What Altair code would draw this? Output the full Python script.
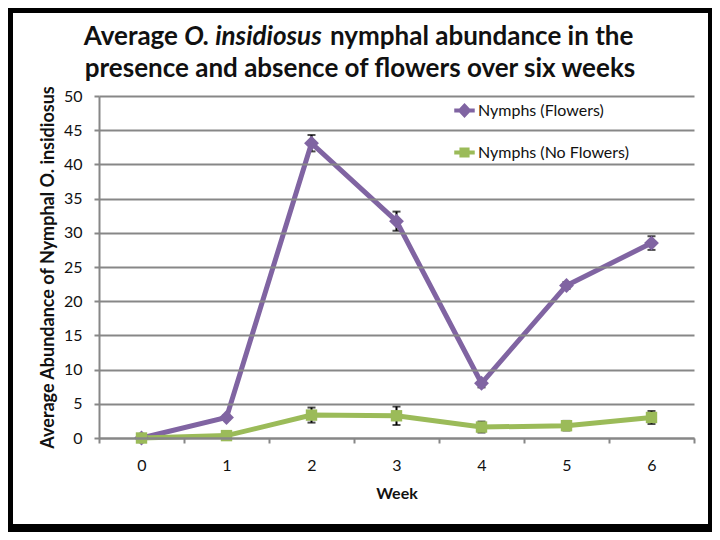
import altair as alt
import pandas as pd

weeks = [0, 1, 2, 3, 4, 5, 6]
flowers = [0.0, 3.0, 43.1, 31.7, 8.0, 22.3, 28.5]
flowers_err = [0.0, 0.3, 1.2, 1.4, 0.6, 0.5, 1.0]
no_flowers = [0.0, 0.35, 3.35, 3.25, 1.6, 1.8, 3.0]
no_flowers_err = [0.0, 0.3, 1.1, 1.35, 0.8, 0.7, 0.95]
series_names = ["Nymphs (Flowers)", "Nymphs (No Flowers)"]
colors = ["#8064A2", "#9BBB59"]
y_ticks = [0, 5, 10, 15, 20, 25, 30, 35, 40, 45, 50]
x_ticks = [-0.5, 0, 0.5, 1, 1.5, 2, 2.5, 3, 3.5, 4, 4.5, 5, 5.5, 6, 6.5]

rows = []
for name, vals, errs in [(series_names[0], flowers, flowers_err),
                         (series_names[1], no_flowers, no_flowers_err)]:
    for w, v, e in zip(weeks, vals, errs):
        rows.append({"week": w, "value": v, "lo": v - e, "hi": v + e, "series": name})
df = pd.DataFrame(rows)

FONT = "Lato"
W, H = 595, 342
YTITLE = "Average Abundance of Nymphal O. insidiosus"

xscale = alt.Scale(domain=[-0.5, 6.5], nice=False, zero=False)
yscale = alt.Scale(domain=[0, 50], nice=False)
color_scale = alt.Scale(domain=series_names, range=colors)

xaxis = alt.Axis(values=x_ticks,
                 labelExpr="datum.value % 1 == 0 ? format(datum.value, 'd') : ''",
                 tickOpacity=alt.expr("datum.value % 1 == 0 ? 0 : 1"),
                 grid=False, domainColor="#878787", domainWidth=2,
                 tickColor="#878787", tickWidth=2, tickSize=5,
                 labelFont=FONT, labelFontSize=16, labelColor="#111",
                 labelPadding=14, title="Week", titleFont=FONT,
                 titleFontSize=16, titleFontWeight="bold", titleColor="#111",
                 titlePadding=12, zindex=1)
yaxis = alt.Axis(values=y_ticks, grid=True, gridColor="#878787", gridWidth=2,
                 domainColor="#878787", domainWidth=2, tickColor="#878787",
                 tickWidth=2, tickSize=5, labelFont=FONT, labelFontSize=16,
                 labelColor="#111", labelPadding=12,
                 title=YTITLE,
                 titleFont=FONT, titleFontSize=18, titleFontWeight="bold",
                 titleColor="#111", titlePadding=6, zindex=1)

diamond_path = "M-1,0L1,0M0,-0.45L0.42,0L0,0.45L-0.42,0Z"
square_path = "M-1,0L1,0M-0.3,-0.3L0.3,-0.3L0.3,0.3L-0.3,0.3Z"
shape_expr = ("datum.value == '" + series_names[0] + "' ? '" + diamond_path +
              "' : '" + square_path + "'")

base = alt.Chart(df)

# white card over black background
card = alt.Chart(pd.DataFrame({"k": [0]})).mark_rect(color="white").encode(
    x=alt.value(-86), x2=alt.value(609), y=alt.value(-83), y2=alt.value(428)
)

err = base.mark_errorbar(ticks=alt.TickConfig(size=8, thickness=2, color="black"),
                         color="black", thickness=2).encode(
    x=alt.X("week:Q", scale=xscale, axis=xaxis, title="Week"),
    y=alt.Y("lo:Q", scale=yscale, axis=yaxis, title=YTITLE),
    y2="hi:Q",
    detail="series:N",
)

lines = base.mark_line(strokeWidth=5).encode(
    x=alt.X("week:Q", scale=xscale, axis=xaxis, title="Week"),
    y=alt.Y("value:Q", scale=yscale, axis=yaxis, title=YTITLE),
    color=alt.Color("series:N", scale=color_scale,
                    legend=alt.Legend(orient="none", legendX=353, legendY=2, title=None,
                                      direction="vertical", symbolSize=420,
                                      symbolStrokeWidth=4, rowPadding=16,
                                      labelFont=FONT, labelFontSize=16, labelColor="#111",
                                      labelOffset=1, symbolOpacity=1, zindex=2,
                                      symbolType=alt.expr(shape_expr))),
)

pts_f = base.transform_filter(alt.datum.series == series_names[0]).mark_point(
    shape="diamond", size=220, filled=True, opacity=1, color=colors[0]).encode(
    x=alt.X("week:Q", scale=xscale, axis=xaxis, title="Week"),
    y=alt.Y("value:Q", scale=yscale, axis=yaxis, title=YTITLE),
)
pts_n = base.transform_filter(alt.datum.series == series_names[1]).mark_point(
    shape="square", size=130, filled=True, opacity=1, color=colors[1]).encode(
    x=alt.X("week:Q", scale=xscale, axis=xaxis, title="Week"),
    y=alt.Y("value:Q", scale=yscale, axis=yaxis, title=YTITLE),
)

title_df = pd.DataFrame({"k": [0]})
tcommon = dict(font=FONT, fontSize=26, fontWeight="bold", color="#111", baseline="middle")
t1 = alt.Chart(title_df).mark_text(align="right", **tcommon).encode(
    x=alt.value(178 - 99), y=alt.value(37 - 96), text=alt.value("Average"))
t2 = alt.Chart(title_df).mark_text(align="center", fontStyle="italic", **tcommon).encode(
    x=alt.value(253 - 99), y=alt.value(37 - 96), text=alt.value("O. insidiosus"))
t3 = alt.Chart(title_df).mark_text(align="left", **tcommon).encode(
    x=alt.value(330 - 99), y=alt.value(37 - 96), text=alt.value("nymphal abundance in the"))
t4 = alt.Chart(title_df).mark_text(align="center", **tcommon).encode(
    x=alt.value(360 - 99), y=alt.value(69 - 96), text=alt.value("presence and absence of flowers over six weeks"))

chart = alt.layer(card, err, lines, pts_f, pts_n, t1, t2, t3, t4).properties(
    width=W, height=H,
    padding={"left": 91, "top": 88, "right": 18, "bottom": 94},
    autosize=alt.AutoSizeParams(type="none"),
    background="black",
).configure_view(stroke=None, fill=None)

chart.save("out.html", embed_options={"renderer": "svg", "actions": False})
